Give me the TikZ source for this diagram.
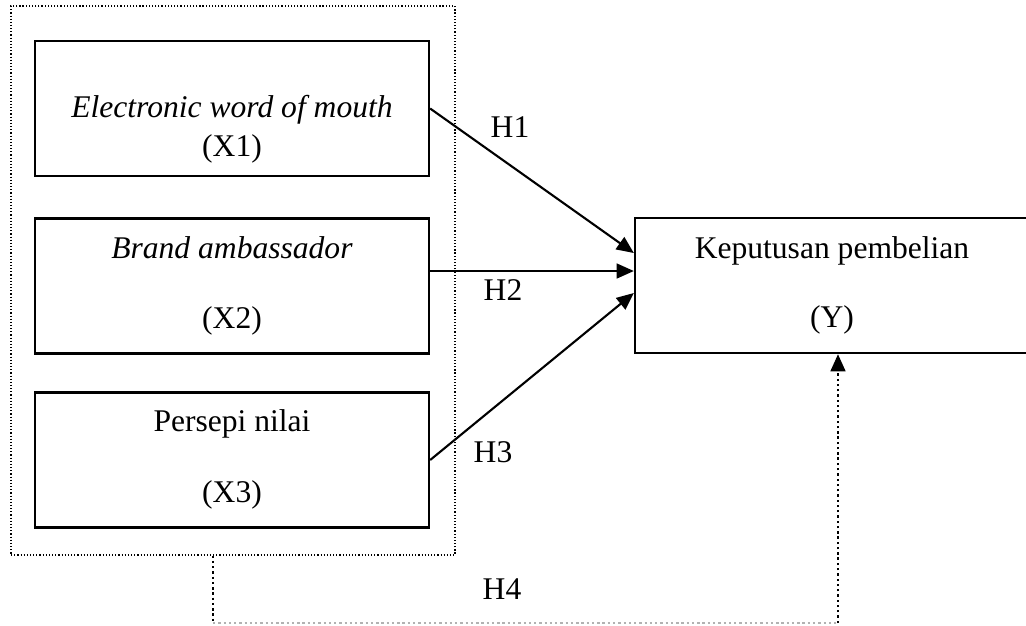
\documentclass[tikz,border=0pt]{standalone}
\usepackage{fontspec}
\setmainfont{Liberation Serif}
\usetikzlibrary{positioning,arrows.meta,calc}
\tikzset{varbox/.style={draw, line width=0.9pt,
        minimum width=149.7pt, minimum height=51.3pt, inner sep=0pt},
    vartext/.style={align=center, inner sep=0pt,
        font=\fontsize{12}{14.5}\selectfont},
    hyp/.style={-{Triangle[length=6.5pt,width=5.6pt]}, line width=0.8pt},
    grpbox/.style={draw, line width=0.45pt, dash pattern=on 0.45pt off 0.75pt,
        minimum width=168.7pt, minimum height=208.6pt, inner sep=0pt},
    modline/.style={line width=0.9pt, dash pattern=on 0.9pt off 1.1pt},
    }

\begin{document}
\begin{tikzpicture}[x=0.38pt, y=-0.38pt]
\useasboundingbox (0,0) rectangle (1026,625);

% group of independent variables
\node[grpbox] (grp) at (233,280.5) {};

\node[varbox] (x1) at (232,108.5) {};
\node[vartext, below=21pt of x1.north] (x1t) {\textit{Electronic word of mouth}\\(X1)};
\node[varbox] (x2) at (232,286) {};
\node[vartext, below=7.2pt of x2.north] (x2t) {\textit{Brand ambassador}\\[12pt](X2)};
\node[varbox] (x3) at (232,460) {};
\node[vartext, below=6.8pt of x3.north] (x3t) {Persepi nilai\\[12.5pt](X3)};

% dependent variable
\node[varbox] (y) at (832,285.5) {};
\node[vartext, below=7.2pt of y.north] (yt) {Keputusan pembelian\\[12pt](Y)};

% hypotheses
\draw[hyp] (x1.east) -- ($(y.west)+(0,-32.5)$);
\draw[hyp] ($(x2.east)+(0,-15)$) -- ($(y.west)+(0,-14.5)$);
\draw[hyp] (x3.east) -- ($(y.west)+(0,7.5)$);

\node[vartext] (h1) at (510,127) {H1};
\node[vartext] (h2) at (503,290) {H2};
\node[vartext] (h3) at (493,452) {H3};
\node[vartext] (h4) at (502,589) {H4};

% simultaneous path
\coordinate (c1) at (213,623);
\coordinate (c2) at (838,623);
\draw[modline] (grp.south -| c1) -- (c1);
\draw[modline, line width=0.5pt, gray!60] (c1) -- (c2);
\draw[modline, -{Triangle[length=6.5pt,width=5.6pt]}] (c2) -- (c2 |- y.south);
\end{tikzpicture}
\end{document}
